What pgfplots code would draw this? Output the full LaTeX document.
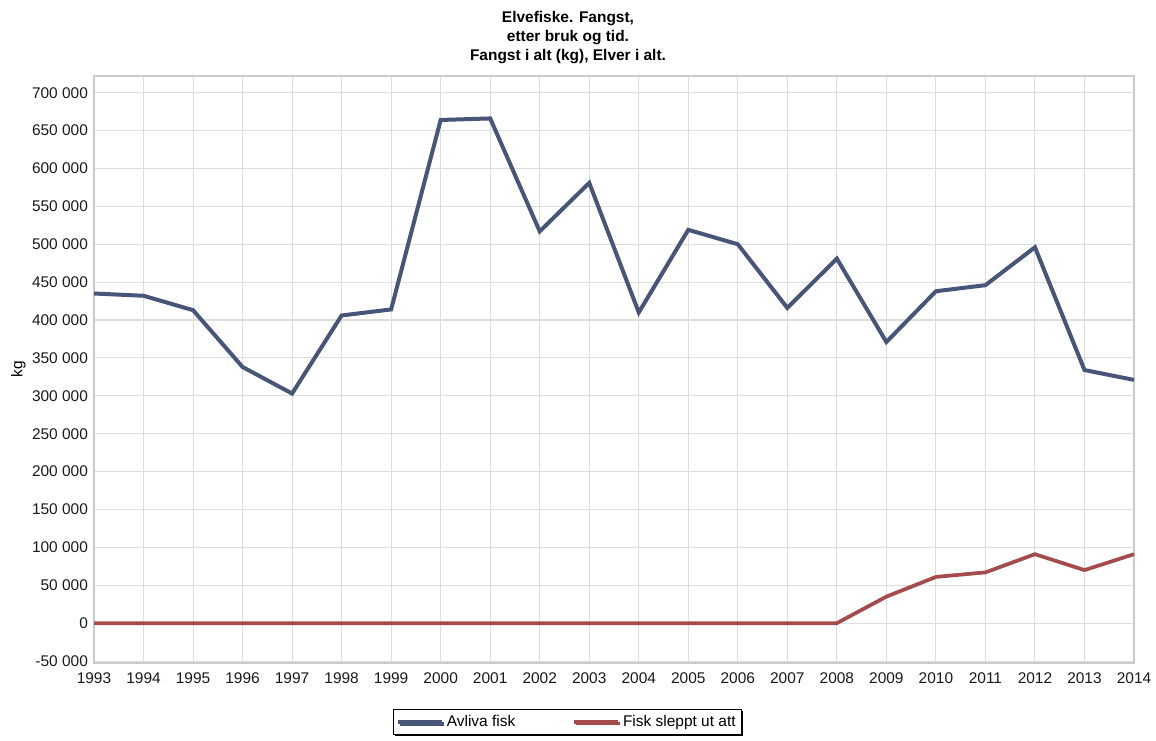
\documentclass[border=0pt]{standalone}
\usepackage{pgfplots}
\pgfplotsset{compat=1.18}
\usepackage{fontspec}
\setmainfont{Liberation Sans}
\usetikzlibrary{shadows}
\definecolor{blueline}{RGB}{70,85,120}
\definecolor{redline}{RGB}{165,75,75}
\definecolor{gridc}{RGB}{222,222,222}
\begin{document}
\begin{tikzpicture}
\useasboundingbox (0,0) rectangle (867pt,-555pt);
\node[align=center,font=\fontsize{11.6pt}{14.4pt}\selectfont\bfseries] at (426pt,-28pt)
  {Elvefiske. Fangst,\\etter bruk og tid.\\Fangst i alt (kg), Elver i alt.};
\begin{axis}[
  at={(70.5pt,-57pt)}, anchor=north west,
  scale only axis, width=780pt, height=440.25pt,
  xmin=1993, xmax=2014, ymin=-52600, ymax=722000,
  xtick={1993,1994,1995,1996,1997,1998,1999,2000,2001,2002,2003,2004,2005,2006,2007,2008,2009,2010,2011,2012,2013,2014},
  xticklabels={1993,1994,1995,1996,1997,1998,1999,2000,2001,2002,2003,2004,2005,2006,2007,2008,2009,2010,2011,2012,2013,2014},
  ytick={-50000,0,50000,100000,150000,200000,250000,300000,350000,400000,450000,500000,550000,600000,650000,700000},
  yticklabels={-50 000,0,50 000,100 000,150 000,200 000,250 000,300 000,350 000,400 000,450 000,500 000,550 000,600 000,650 000,700 000},
  xmajorgrids, ymajorgrids,
  grid style={draw=gridc, line width=0.8pt},
  axis line style={draw=gridc!80!gray, line width=0.8pt},
  major tick length=0pt,
  tick label style={font=\fontsize{11.6pt}{13pt}\selectfont, text=black!90},
  xticklabel style={yshift=-3.5pt},
  yticklabel style={xshift=-1pt},
  scaled y ticks=false,
  ylabel={kg},
  ylabel style={font=\fontsize{11.6pt}{13pt}\selectfont, yshift=-2pt},
  legend columns=2,
  legend style={at={(0.455,-0.1005)}, anchor=center, draw=black, line width=0.6pt,
    font=\fontsize{11.6pt}{13pt}\selectfont, fill=white,
    drop shadow={shadow xshift=1.2pt, shadow yshift=-1.2pt, fill=black, opacity=1},
    inner sep=2.3pt,
    /tikz/every even column/.append style={column sep=41pt}},
  legend image code/.code={\draw[#1] (0pt,0pt) -- (33pt,0pt);},
]
\addplot[blueline, line width=3pt] coordinates {
(1993,435000) (1994,432000) (1995,413000) (1996,338000) (1997,303000)
(1998,406000) (1999,414000) (2000,664000) (2001,666000) (2002,517000)
(2003,581000) (2004,410000) (2005,519000) (2006,500000) (2007,416000)
(2008,481000) (2009,371000) (2010,438000) (2011,446000) (2012,496000)
(2013,334000) (2014,321000)};
\addlegendentry{Avliva fisk}
\addplot[redline, line width=2.8pt] coordinates {
(1993,0) (1994,0) (1995,0) (1996,0) (1997,0) (1998,0) (1999,0) (2000,0)
(2001,0) (2002,0) (2003,0) (2004,0) (2005,0) (2006,0) (2007,0) (2008,0)
(2009,35000) (2010,61000) (2011,67000) (2012,91000) (2013,70000) (2014,91000)};
\addlegendentry{Fisk sleppt ut att}
\end{axis}
\end{tikzpicture}
\end{document}
